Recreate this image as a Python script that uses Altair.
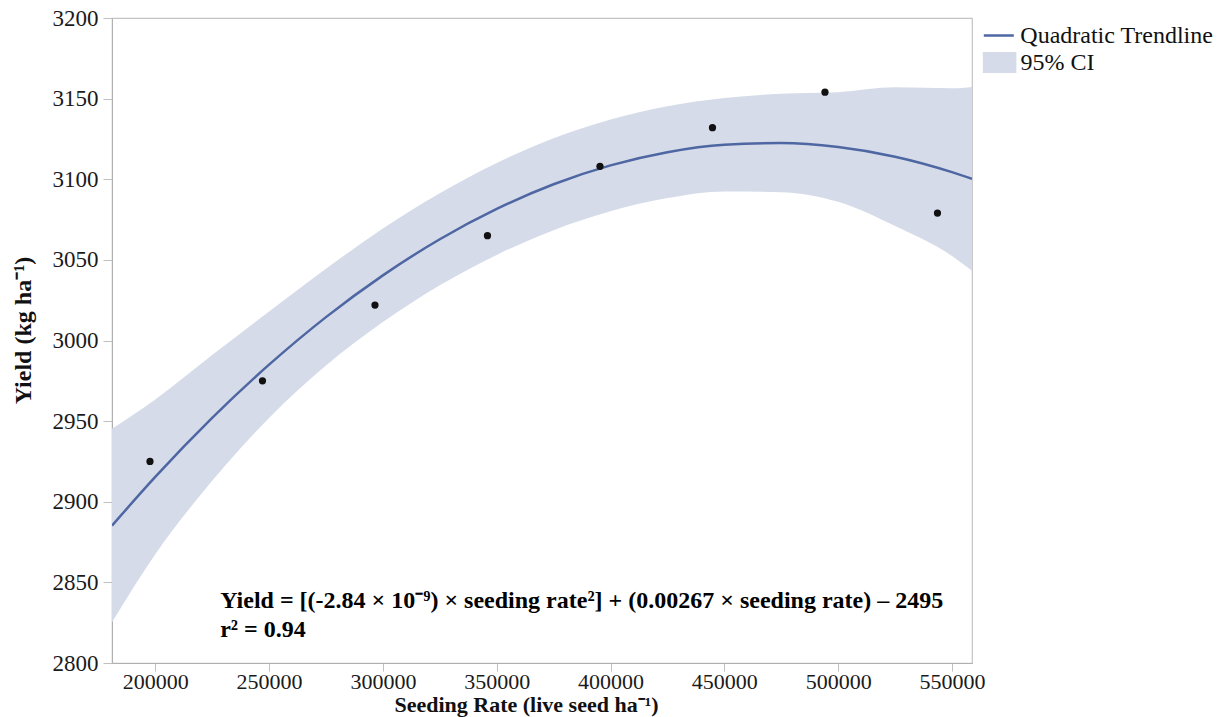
import altair as alt
import pandas as pd

# Observed means
seeding_rate = [197684, 247105, 296526, 345947, 395368, 444789, 494210, 543631]
yield_obs = [2925, 2975, 3022, 3065, 3108, 3132, 3154, 3079]

# Quadratic trendline and 95% CI
trend_x = [181000, 200000, 225000, 250000, 275000, 300000, 325000, 350000, 375000,
           400000, 425000, 450000, 475000, 500000, 525000, 550000, 558800]
trend_y = [2885.2, 2915.4, 2952.0, 2985.0, 3014.5, 3040.4, 3062.8, 3081.6, 3096.9,
           3108.6, 3116.8, 3121.4, 3122.5, 3120.0, 3114.0, 3104.4, 3100.2]
ci_low = [2825.2, 2867.4, 2913.0, 2952.0, 2984.5, 3011.4, 3034.3, 3053.1, 3068.4,
          3080.1, 3088.3, 3092.4, 3092.0, 3086.0, 3071.0, 3052.4, 3043.2]
ci_high = [2945.2, 2963.4, 2991.0, 3018.0, 3044.5, 3069.4, 3091.3, 3110.1, 3125.4,
           3137.1, 3145.3, 3150.4, 3153.0, 3154.0, 3157.0, 3156.4, 3157.2]

x_ticks = [200000, 250000, 300000, 350000, 400000, 450000, 500000, 550000]
y_ticks = [2800, 2850, 2900, 2950, 3000, 3050, 3100, 3150, 3200]

ann_text = ["Yield = [(-2.84 × 10⁻⁹) × seeding rate²] + (0.00267 × seeding rate) – 2495",
            "r² = 0.94"]
ann_x = [228500, 228500]
ann_y = [2834, 2816]

pts = pd.DataFrame({"rate": seeding_rate, "yield": yield_obs})
trend = pd.DataFrame({"rate": trend_x, "fit": trend_y, "lo": ci_low, "hi": ci_high,
                      "line": "Quadratic Trendline", "band": "95% CI"})
ann = pd.DataFrame({"rate": ann_x, "y": ann_y, "txt": ann_text})

SERIF = "Liberation Serif"

xscale = alt.Scale(domain=[181000, 558800], nice=False, zero=False)
yscale = alt.Scale(domain=[2800, 3200], nice=False, zero=False)

xaxis = alt.Axis(title="Seeding Rate (live seed ha⁻¹)", values=x_ticks, format="d",
                 grid=False, labelFont=SERIF, labelFontSize=22, labelColor="#1a1a1a",
                 tickColor="#c0c0c0", tickSize=8, domainColor="#b0b0b0", labelPadding=0,
                 titleFont=SERIF, titleFontSize=22, titleFontWeight="bold", titleColor="#111111",
                 titleX=414, titleY=48, titleAlign="center", titleBaseline="alphabetic",
                 labelFlush=False)
yaxis = alt.Axis(title="Yield (kg ha⁻¹)", values=y_ticks, format="d",
                 grid=False, labelFont=SERIF, labelFontSize=23, labelColor="#1a1a1a",
                 tickColor="#c0c0c0", tickSize=9, domainColor="#b0b0b0", labelPadding=5,
                 titleFont=SERIF, titleFontSize=24, titleFontWeight="bold", titleColor="#111111",
                 titleX=-89, titleY=312, titleAlign="center", titleBaseline="middle",
                 titleAngle=270, labelFlush=False)

band = alt.Chart(trend).mark_area(interpolate="monotone", opacity=1, clip=True).encode(
    x=alt.X("rate:Q", scale=xscale, axis=xaxis),
    y=alt.Y("lo:Q", scale=yscale, axis=yaxis),
    y2="hi:Q",
    fill=alt.Fill("band:N", scale=alt.Scale(domain=["95% CI"], range=["#d5dbe9"]),
                  legend=alt.Legend(title=None, orient="none", legendX=875.6, legendY=32.5,
                                    symbolType="M-1.6,-1L1.6,-1L1.6,1L-1.6,1Z", symbolSize=441,
                                    symbolStrokeWidth=0, symbolOpacity=1,
                                    labelFont=SERIF, labelFontSize=24, labelColor="#111111",
                                    labelOffset=9, labelLimit=0, padding=0)),
)

line = alt.Chart(trend).mark_line(interpolate="monotone", strokeWidth=2.5, clip=True).encode(
    x=alt.X("rate:Q", scale=xscale),
    y=alt.Y("fit:Q", scale=yscale),
    stroke=alt.Stroke("line:N", scale=alt.Scale(domain=["Quadratic Trendline"], range=["#4e66a2"]),
                      legend=alt.Legend(title=None, orient="none", legendX=870.3, legendY=1,
                                        symbolType="stroke", symbolSize=900, symbolStrokeWidth=2.5,
                                        labelFont=SERIF, labelFontSize=24, labelColor="#111111",
                                        labelOffset=5, labelLimit=0, padding=0)),
)

points = alt.Chart(pts).mark_circle(size=52, color="#111111", opacity=1).encode(
    x=alt.X("rate:Q", scale=xscale),
    y=alt.Y("yield:Q", scale=yscale),
)

text = alt.Chart(ann).mark_text(align="left", baseline="alphabetic", font=SERIF,
                                fontSize=24, fontWeight="bold", color="#000000").encode(
    x=alt.X("rate:Q", scale=xscale),
    y=alt.Y("y:Q", scale=yscale),
    text="txt:N",
)

chart = alt.layer(band, line, points, text).properties(
    width=860, height=645,
    autosize=alt.AutoSizeParams(type="none"),
    padding={"left": 112, "top": 18, "right": 258, "bottom": 54},
    background="white",
).configure_view(stroke="#c4c4c4", strokeWidth=1.2)

chart.save("out.html", embed_options={"renderer": "svg", "actions": False})
